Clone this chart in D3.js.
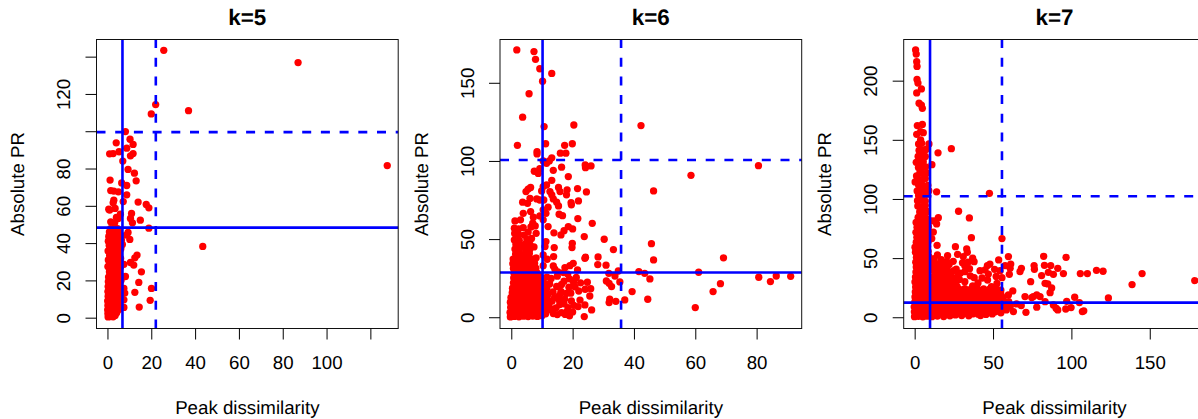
<!DOCTYPE html>
<html>
<head>
<meta charset="utf-8">
<script src="https://cdn.jsdelivr.net/npm/d3@7/dist/d3.min.js"></script>
<style>
  html, body { margin: 0; padding: 0; background: #fff; overflow: hidden; }
  text { font-family: "Liberation Sans", Arial, sans-serif; fill: #000; text-rendering: geometricPrecision; }
</style>
</head>
<body>
<div id="chart"></div>
<script>
// --- data: [peak dissimilarity, absolute PR] ---
const k5Sparse = [[25.7,143.4],[87,136.8],[22,114.3],[20,109.3],[37,111],[127.7,81.6],[43.5,38.2],[8.2,99.8],[10.3,95.7],[4,93.8],[11.7,92.9],[8.8,90.9],[11.7,88],[10.5,86.8],[1,87.9],[2.6,88],[5.3,89],[7,84],[9.4,79.5],[12.3,77.5],[13.1,73.4],[1.2,73.8],[6.5,72.3],[8.8,70.9],[1.5,68.2],[2.9,67.9],[5,67.5],[8.8,65.9],[2.9,63],[2.6,61.6],[7.2,62.3],[14,62],[17.7,60.7],[18.9,58.9],[.6,58.2],[1,57.7],[3.5,58.6],[11,55.9],[5.9,55.5],[4.1,53.8],[10.5,53.2],[4.9,53.2],[15,52.3],[11.4,50.9],[1.5,51.4],[3.3,50.9],[18.9,48],[9.4,45.7],[8.7,44.3],[10.2,42],[6.8,39.3],[13.5,33.6],[12.5,32.1],[10.5,29.6],[12,28.2],[7.5,28.6],[15.5,24.6],[8.2,22.1],[14.3,18.9],[20.1,15.7],[7.5,15.7],[12.5,13.6],[7.9,13.2],[19.5,9.3],[7.5,9.6],[14.5,5.7],[7.5,5.5]];
const k5Dense = [[.3,.4],[1.4,.6],[2.6,.5],[.2,2.2],[1.2,2],[2.8,2.3],[4.2,2.6],[.1,4.2],[1.5,4],[3,4.4],[4.6,3.9],[5.6,4.6],[.2,6.6],[1.6,6.3],[3.2,6.8],[4.7,6.5],[.1,9],[1.3,9.4],[2.7,8.8],[4.2,9.1],[5.8,8.7],[.3,11.5],[1.8,11.8],[3.3,11.2],[4.9,11.6],[.2,14],[1.5,14.3],[3,13.9],[4.5,14.2],[6,13.8],[.3,16.7],[1.7,16.4],[3.4,16.9],[5,16.5],[.4,19.3],[1.9,19.1],[3.2,19.6],[4.8,19.2],[.5,21.8],[1.6,22.2],[3,21.7],[4.3,22.1],[.9,24.6],[2.3,24.9],[3.7,24.5],[5,24.8],[.2,27.4],[1.8,27.6],[3.2,27.2],[4.7,27.7],[6,27.3],[.4,31],[1.6,30.4],[3,30.7],[4.5,30.3],[1,33.4],[2.5,33.8],[3.9,33.2],[5.2,33.6],[.3,35.8],[1.7,36.2],[3.1,35.9],[4.6,36.3],[.8,38.7],[2.2,38.4],[3.6,38.8],[5,38.3],[.4,41],[1.6,41.3],[3,40.9],[4.4,41.2],[5.8,40.8],[.6,43.6],[2,43.9],[3.5,43.5],[5,43.8],[.9,46],[2.3,46.3],[3.8,45.9],[5.4,46.2],[1.4,47.8],[3,48],[4.6,47.7]];
const k5Extra = [[.8,1.1],[2,1.4],[3.5,1.2],[.9,3.2],[2.2,3.3],[3.7,3.6],[.8,5.3],[2.4,5.5],[3.9,5.4],[5.2,5.8],[.9,7.8],[2.2,7.6],[3.8,7.9],[5.3,7.4],[.8,10.4],[2.3,10.3],[3.9,10.3],[5.4,10.2],[1,12.9],[2.5,12.8],[4,12.6],[5.5,12.4],[.9,15.4],[2.4,15.3],[3.9,15.5],[5.5,15.3],[1,18],[2.6,18],[4.2,18],[5.6,18.2],[1.2,20.6],[2.6,20.5],[4,20.8],[5.4,20.9],[1.2,23.4],[2.5,23.6],[3.8,23.3],[5.6,23.4],[1.1,26.2],[2.6,26.2],[4,26],[.9,29],[2.4,29.2],[3.9,29],[5.4,29.2],[2.3,32.1],[3.7,32],[1.1,35],[2.8,35.2],[4,34.8],[5.5,35.4],[1.4,37.4],[2.9,37.3],[4.3,37.6],[1.2,40],[2.4,40],[3.7,39.9],[5.4,40],[1,42.4],[2.5,42.3],[4.1,42.5],[5.4,42.6],[1.4,45],[2.9,44.9],[4.3,45],[5.6,44.9],[6.3,44],[6.4,41.6],[6.1,37],[6,31.8],[6.2,20],[6.3,11]];

const k6Sparse = [[1.8,171],[7.4,170],[7.9,165],[9.3,159],[13.2,156],[10.2,151],[5.8,143],[3.7,128],[10.7,122],[20.4,123],[42.3,122.6],[2,110],[11.2,111],[17.4,110],[19.9,111],[8.4,106],[8.4,104.5],[16,105],[17.8,105],[13.2,102],[12.4,100],[11.5,98.5],[10.4,100],[24.1,97.4],[24.2,95.7],[26,96.8],[16.4,96],[13.7,94],[9.3,95],[7.5,93.4],[8.8,92],[18.6,90],[80.6,97],[58.6,90.8],[46.4,80.8],[13.2,87.6],[11.5,84.6],[10.4,83.6],[6.3,83],[5.5,82],[4.8,80.4],[9.9,80.8],[15.4,83],[15.9,80.4],[18.2,81.5],[18,78.3],[21.6,82.3],[24.5,80.2],[12.6,80.4],[13.2,78.3],[13.7,75.7],[14.8,73.6],[15.4,71.2],[19.5,73.3],[19.6,71.9],[21.9,74.4],[6.1,76],[3.7,73.6],[5.3,72.9],[8.3,75.7],[9.3,75],[10.6,75],[12,70.4],[11.3,66.5],[10.4,68.7],[3.9,66.5],[6.3,67.6],[15.6,65.9],[16.7,65],[21.7,63.1],[26.4,60.1],[1.2,61.6],[3,62.3],[7.2,64],[9.3,64.8],[10.4,62.3],[18.6,58],[20,56.5],[17.2,55.4],[16.2,52.7],[13.9,54],[12,58],[23.8,51.6],[30.3,49.9],[45.7,47.1],[33.3,43.3],[19.9,47.3],[19.8,44.6],[14,44.6],[11.3,48.4],[11,45.2],[13.8,38.8],[10.4,39.9],[11.7,37.1],[24.2,38.4],[28.3,38.6],[46.4,36.7],[69.2,38],[24,37.7],[28.2,33.7],[30.9,33.3],[20.2,34.5],[19.1,33],[17.5,31.8],[13.7,32.8],[10.4,33],[21.6,30.3],[34.9,29.6],[41.6,29.2],[43.5,28.1],[61.1,28.8],[31.8,28.1],[33.8,26.4],[45.2,24.5],[80.7,25.6],[86.4,26.4],[91.1,26.2],[84.5,22.8],[68.2,21.5],[65.8,16.4],[60,6.2],[44.5,11.5],[39.4,16.4],[37,11.1],[35.4,22.6],[31,23.2],[31.9,21.7],[32.7,19.6],[32.1,11.5],[31.9,9.4],[34.1,10.2],[26.2,4.7],[23.8,.4],[25.6,13.6],[25.9,18.3],[24.1,17.9],[24.8,22.4],[22,16.8],[22.4,11],[24,7.9],[21.8,6.8],[14.2,30.8],[15,26.3],[18.4,27.6],[21.2,25.5],[13,24.8],[17.2,23.1],[20.3,22.4],[12.5,21.3],[14.8,19.7],[18.8,19.2],[13.6,16.2],[16.2,16.6],[19.4,15.4],[11.7,13.2],[14.1,12.6],[17.4,11.6],[19.6,10.4],[12.3,8.8],[15.8,8.1],[18.5,6.2],[20,3.4],[11.8,4.6],[13.7,2.4],[17.6,1.8],[19,.9]];
const k6Dense = [[-.3,.2],[1,.5],[2.5,.3],[4,.7],[5.5,.4],[7,.8],[8.5,.5],[10,1],[-.4,3.1],[1.2,3.5],[2.8,3],[4.3,3.4],[5.8,3.1],[7.3,3.6],[8.8,3.2],[10.3,3.6],[-.2,6.4],[.9,6.8],[2.4,6.2],[3.9,6.7],[5.4,6.3],[6.9,6.8],[8.4,6.4],[9.9,6.9],[11.1,6.1],[-.3,9.6],[1.3,9.2],[2.9,9.8],[4.4,9.3],[5.9,9.7],[7.4,9.2],[8.9,9.8],[10.6,9.5],[-.1,12.6],[1,13],[2.5,12.5],[4,12.9],[5.5,12.4],[7,13],[8.5,12.5],[10,12.8],[.3,15.7],[1.6,15.9],[3.1,15.4],[4.6,16],[6.1,15.5],[7.6,16],[9.1,15.5],[.4,18.6],[1.1,19],[2.6,18.5],[4.1,19],[5.6,18.4],[7.1,19],[8.6,18.6],[.7,22],[2,21.6],[3.5,22.1],[5,21.6],[6.5,22.2],[8,21.6],[9.5,22],[.8,25.1],[2.3,24.7],[3.8,25.2],[5.3,24.7],[6.8,25.2],[8.3,24.8],[10,25],[.9,28],[2.4,28.4],[3.9,27.9],[5.4,28.4],[6.9,27.9],[8.4,28.3],[.7,31.2],[2.1,31.5],[3.6,31],[5.1,31.5],[6.6,31],[8,31.4],[.5,34.3],[1.7,34.6],[3.2,34.1],[4.7,34.7],[6.2,34.2],[7.6,34.6],[.6,37.2],[2,37.5],[3.6,37],[5.2,37.4],[7,37.1],[8.1,38],[1.4,40.4],[2.8,40.8],[4.4,40.2],[5.9,40.8],[1.2,43.6],[2.5,43.2],[4.5,44],[6,43.4],[1.5,46.6],[3.2,46.1],[4.6,47],[6.1,46.4],[7.4,45],[1,49.5],[2.6,49.2],[5.1,49.8],[6.6,50.4],[1.1,53.6],[2.4,53],[4.2,52.6],[5.5,54.5],[8.1,53.7],[1,57],[2.4,56.6],[3.9,57.4],[6.4,57.8],[7.8,58.4],[7,60.2]];
const k6Extra = [[.4,1.8],[1.8,2],[3.2,1.6],[4.8,2],[6.2,1.7],[7.8,2.1],[9.2,1.8],[.3,4.9],[2,4.8],[3.5,5],[5,4.7],[6.5,5.1],[8,4.8],[9.6,5.2],[.4,8.1],[2,8],[3.6,8.1],[5.1,8],[6.6,8.2],[8.1,7.9],[9.7,8.2],[.5,11.2],[2.1,11],[3.6,11.3],[5.1,11],[6.6,11.3],[8.1,11],[9.6,11.4],[.6,14.2],[2.2,14.3],[3.6,14.1],[5.2,14.3],[6.7,14],[8.2,14.3],[9.8,14.1],[1.3,17.3],[3.4,17.1],[4.9,17.4],[6.4,17.1],[7.9,17.4],[9.4,17.2],[1.4,20.3],[3.2,20.4],[4.7,20.2],[6.2,20.5],[7.7,20.2],[9.1,20.4],[1.5,23.4],[3,23.5],[4.5,23.3],[6,23.5],[7.5,23.4],[9,23.6],[1.6,26.5],[3.1,26.4],[4.6,26.6],[6.1,26.5],[7.6,26.4],[9.2,26.8],[1.6,29.7],[3.1,29.8],[4.5,29.6],[6,29.8],[7.5,29.7],[2.8,33],[4.4,32.9],[5.9,33],[7.2,32.8],[11.2,2.2],[12.6,5.8],[14.6,6],[16.4,3],[13.3,10.4],[15.6,11],[11.4,10.8],[10.6,16.8],[11.6,18.6],[10.8,21.6],[12,15],[15.7,14],[17.9,15.2],[16.4,21],[19,24.6],[11.6,25.7],[15.2,29],[17,28.6],[22.6,22],[20.8,19.4],[17.2,8.6],[20.4,7.6],[18.2,3.8],[15,1.7]];

const k7Sparse = [[.6,226],[1,222.5],[1.3,216],[1.5,212],[1.5,201],[2.1,198],[4.3,193],[1.3,189.6],[2.8,181],[4.3,179.4],[4.9,176.6],[1.7,162],[4.9,163],[1.3,154.6],[3.8,157],[5.5,156],[9.1,146.5],[23.4,142.5],[14.9,139],[11,129],[14,106],[47.7,104.8],[28,89.6],[34.9,84],[15.1,84.2],[13,81.4],[14,78.9],[11.9,72],[10.9,66.5],[36.2,67.3],[55.7,66.5],[14.3,60.8],[26,59.7],[59.8,51.3],[82.3,51.5],[96.6,50.7],[33.2,57.7],[33.6,54.9],[27.4,53.2],[21,52.1],[14.5,52.7],[31,51.3],[37,49.9],[37.9,47],[53.6,48.5],[48,45],[46.4,43.7],[44.9,40],[41.7,39.4],[61.3,45],[57.7,43.7],[54.5,39.4],[60.9,41.4],[60.4,36.3],[68.1,41.4],[67.2,38.6],[76.2,43.7],[76.4,40.6],[82.8,43.9],[86.8,43.7],[91.3,41.4],[85.3,38],[88.5,36.3],[94.9,36.9],[81,35.2],[105.7,36.9],[110.2,36.9],[116,39.7],[120.2,38.9],[145.1,36.9],[138.7,27.6],[178.7,31],[74,30.1],[83.2,28.7],[84.9,28.2],[87.4,24.8],[86.4,20.8],[123.6,16.3],[102.1,16.9],[97,13.5],[105.1,12.4],[96.4,7],[99.8,8.2],[107,4.8],[107.9,5.4],[90.2,7.6],[91.3,6.2],[88.5,10.4],[83.2,13.2],[77.9,18.9],[77.9,8.5],[71,4.2],[63,4.8],[70.4,17.5],[74.7,16.6],[75.7,17.5],[80,17.5],[62.6,22.3],[59.8,18.9],[55.7,33.5],[68,9.9],[65,11.3],[40.4,29],[46.5,31.5],[49,25.8],[52.5,28.6],[35.5,35],[26.5,40.7],[29,37.2],[22,44.5],[18,45.4],[24.6,47.3],[16.5,41.5],[12.5,46.5],[32,43.5],[35,41],[20,37.5],[25,33],[32,30],[37,26.5]];
const k7Dense = [[-.1,.5],[2.4,.8],[5.2,.4],[8,.9],[11,.5],[14.5,1],[18.5,.6],[22.5,1.2],[26,2],[30,1.4],[34.5,1.2],[42,1.5],[-.2,4.6],[2.1,5],[4.8,4.4],[7.6,5.1],[11.6,4.7],[15.5,5.2],[19.5,4.5],[23.5,5.4],[27.5,5],[31.5,5.6],[35.5,4.9],[39.5,5.5],[43.5,4.8],[47.5,5.6],[51.5,4.6],[55,3.8],[58.5,6.2],[-.3,8.8],[2.6,9.3],[5.6,8.6],[9,9.4],[13,9],[17,9.5],[21,8.7],[25,9.6],[29,9],[33,9.5],[37,8.8],[41,9.6],[45,9],[49,9.5],[53,8.9],[57,9.7],[61,9.3],[.1,13],[2.3,13.4],[5,12.8],[8.4,13.5],[12,13.1],[16,13.6],[20,12.9],[24,13.7],[28,13.1],[32,13.6],[36,13],[40,13.7],[44,13.1],[48,13.6],[52,12.9],[56,13.6],[60,13.1],[.2,17.2],[2.7,17.6],[5.6,17],[9,17.7],[13,17.2],[17,17.8],[21,17.1],[25,17.9],[29,17.3],[33,17.8],[37,17.2],[41,17.8],[45,17.1],[49,17.8],[53,17.4],[56.5,16.6],[.4,21.4],[3,21.8],[6,21.2],[9.5,21.9],[13.5,21.4],[17.5,22],[22,21.5],[26,22.1],[30,21.4],[34,22],[38,21.5],[42,22],[46,21.4],[50,21.9],[55,23],[.6,25.5],[3.2,26],[6.2,25.4],[9.8,26.1],[14,25.5],[18,26.2],[22.5,25.8],[27,26.4],[.2,29.8],[2.8,30.2],[5.8,29.6],[8.8,30.3],[12.5,30],[16,30.4],[20,29.8],[24,30.3],[28.5,32],[.5,34],[3,34.4],[6,33.8],[8.8,34.5],[12,34.2],[16,35],[21,34.8],[.8,38.2],[3.4,38.6],[6.2,38],[9,38.8],[13,38.3],[18,39.4],[23,38.4],[1,42.4],[3.6,42.8],[6.4,42.2],[9.2,43],[14,43.2],[19,42],[.7,46.6],[3.2,47],[6,46.4],[8.8,47.2],[11,49],[1.1,50.8],[3.6,51.2],[6.4,50.6],[9,51.4],[.5,55],[3.1,55.4],[5.9,54.8],[8.6,55.6],[.2,59.2],[2.7,59.6],[5.5,59],[8.2,59.8],[1,63.4],[3.6,63.8],[6.2,63.2],[8.6,64],[1.4,67.6],[3.9,68],[6.5,67.4],[8.9,68.2],[.8,71.8],[3.2,72.2],[5.8,71.6],[8.2,72.4],[1.5,76],[4,76.4],[6.6,75.8],[8.8,76.6],[.9,80.2],[3.4,80.6],[6,80],[8.4,80.8],[11,81.5],[2.2,84.4],[4.7,84.8],[7,84.2],[3.2,89],[5.8,88.6],[8,89.4],[2,94],[4.6,93.5],[6.8,94.4],[1.8,98.5],[4.3,99],[6.8,98.2],[2.5,103],[5.2,103.5],[7.6,104],[1.6,106.8],[4,107.5],[6.6,108],[9,107],[2.4,112],[5,111.6],[8.4,111.5],[.3,114.4],[2,117],[4.6,116.3],[6.8,117.2],[1.2,119.5],[3.3,122],[5.8,121.5],[8,122],[2.4,126.5],[4.8,126.8],[7,127.2],[1,131],[3.2,131.5],[5.5,131.5],[2.2,136],[4.5,136.2],[6.8,136],[2.8,141],[5,141.5],[7.2,141.8],[2.5,146.5],[4.5,147],[3.8,150]];
const k7Extra = [[1,2.7],[3.6,2.9],[6.5,2.6],[9.6,3],[13.4,2.8],[17,3.1],[21,2.7],[25,3.2],[29,3],[33,3.3],[37,2.8],[40.5,2.6],[45.5,2.4],[49.5,2.8],[1.2,6.9],[3.9,7],[6.8,6.8],[11,7],[15,7.2],[19,6.9],[23,7.3],[27,7],[31,7.4],[35,7],[39,7.3],[43,7],[47,7.4],[51,6.9],[55,7.2],[1,11],[3.8,11.2],[7,11],[10.8,11.2],[14.8,11.3],[18.8,11],[22.8,11.3],[26.8,11.2],[30.8,11.4],[34.8,11],[38.8,11.4],[42.8,11.2],[46.8,11.5],[50.8,11],[54.8,11.3],[58.8,11.3],[1.2,15.2],[3.9,15.4],[7,15],[10.6,15.4],[14.6,15.3],[18.6,15.5],[22.6,15.2],[26.6,15.6],[30.6,15.2],[34.6,15.5],[38.6,15.3],[42.6,15.6],[46.6,15.2],[50.6,15.5],[54.6,15.1],[1.4,19.4],[4.3,19.6],[7.5,19.2],[11,19.6],[15,19.4],[19,19.6],[23.5,19.4],[27.5,19.7],[31.5,19.4],[35.5,19.7],[39.5,19.4],[43.5,19.7],[47.5,19.4],[51.5,19.6],[55,19.5],[1.7,23.6],[4.6,23.8],[7.8,23.4],[11.6,23.8],[15.6,23.6],[19.8,23.8],[24,23.7],[28.4,23.8],[32,24.2],[36,24],[40,24.2],[44,24],[48,24],[52,24.4],[11.5,27.8],[15,28],[18.5,27.9],[22,28.2],[26,28.4],[10.6,32],[14,32.3],[18,32.5],[22,32.3],[27.5,35],[14,36.5],[18.5,36.8],[23,36.5],[12,40.8],[16,39],[20.5,40.2],[25,39.5],[11,44.5],[15,45],[20.5,47],[12.5,49.5],[17,48.6],[30.5,46],[34,46.5],[32,38.5],[38,33.5],[43,33.2],[47,36.5],[52,34.5],[51,40.5]];

const k5Thresholds = { solidX: 6.85, solidY: 48.3, dashX: 22.07, dashY: 99.5 };
const k6Thresholds = { solidX: 10.2, solidY: 28.6, dashX: 35.8, dashY: 100.6 };
const k7Thresholds = { solidX: 9.8, solidY: 12.4, dashX: 55.7, dashY: 102.3 };

const k5XTicks = [0, 20, 40, 60, 80, 100, 120];
const k5XLabels = [0, 20, 40, 60, 80, 100];
const k5YTicks = [0, 20, 40, 60, 80, 100, 120, 140];
const k5YLabels = [0, 20, 40, 60, 80, 120];
const k6XTicks = [0, 20, 40, 60, 80];
const k6YTicks = [0, 50, 100, 150];
const k7XTicks = [0, 50, 100, 150];
const k7YTicks = [0, 50, 100, 150, 200];

const panels = [
  { title: "k=5", pts: k5Dense.concat(k5Extra, k5Sparse), lines: k5Thresholds, left: 96.5,
    xLim: [-5, 132.7], yLim: [-5.8, 149.2],
    xTicks: k5XTicks, xLabels: k5XLabels, yTicks: k5YTicks, yLabels: k5YLabels },
  { title: "k=6", pts: k6Dense.concat(k6Extra, k6Sparse), lines: k6Thresholds, left: 500,
    xLim: [-3.68, 94.7], yLim: [-7.2, 177.7],
    xTicks: k6XTicks, xLabels: k6XTicks, yTicks: k6YTicks, yLabels: k6YTicks },
  { title: "k=7", pts: k7Dense.concat(k7Extra, k7Sparse), lines: k7Thresholds, left: 903.7,
    xLim: [-7, 185.5], yLim: [-9.5, 234.8],
    xTicks: k7XTicks, xLabels: k7XTicks, yTicks: k7YTicks, yLabels: k7YTicks }
];

const width = 1198, height = 419;
const boxW = 301.7, boxTop = 39.5, boxBottom = 328.5;
const tickLen = 11, fontSize = 18.7;

const svg = d3.select("#chart").append("svg")
  .attr("width", width)
  .attr("height", height)
  .style("display", "block");

function drawPanel(p) {
  const x = d3.scaleLinear().domain(p.xLim).range([p.left, p.left + boxW]);
  const y = d3.scaleLinear().domain(p.yLim).range([boxBottom, boxTop]);
  const g = svg.append("g");

  g.append("g").selectAll("circle")
    .data(p.pts)
    .join("circle")
    .attr("cx", d => x(d[0]))
    .attr("cy", d => y(d[1]))
    .attr("r", 3.65)
    .attr("fill", "#ff0000");

  // threshold lines sit on top of the points, cut at the box
  const lineStyle = (sel, dashed) => sel
    .attr("stroke", "#0000ff")
    .attr("stroke-width", 2.6)
    .attr("stroke-dasharray", dashed ? "9 9.7" : null);
  const right = Math.min(p.left + boxW, width);
  g.append("line").attr("x1", x(p.lines.solidX)).attr("x2", x(p.lines.solidX))
    .attr("y1", boxTop).attr("y2", boxBottom).call(lineStyle, false);
  g.append("line").attr("x1", p.left).attr("x2", right)
    .attr("y1", y(p.lines.solidY)).attr("y2", y(p.lines.solidY)).call(lineStyle, false);
  g.append("line").attr("x1", x(p.lines.dashX)).attr("x2", x(p.lines.dashX))
    .attr("y1", boxBottom).attr("y2", boxTop).call(lineStyle, true);
  g.append("line").attr("x1", p.left).attr("x2", right)
    .attr("y1", y(p.lines.dashY)).attr("y2", y(p.lines.dashY)).call(lineStyle, true);

  g.append("rect")
    .attr("x", p.left).attr("y", boxTop)
    .attr("width", boxW).attr("height", boxBottom - boxTop)
    .attr("fill", "none").attr("stroke", "#111").attr("stroke-width", 1);

  const xAxis = d3.axisBottom(x)
    .tickValues(p.xTicks)
    .tickSize(tickLen)
    .tickPadding(16)
    .tickFormat(d => p.xLabels.includes(d) ? d : "");
  g.append("g").attr("transform", `translate(0,${boxBottom})`).call(xAxis)
    .call(a => a.select(".domain").remove())
    .call(a => a.selectAll("text").attr("font-size", fontSize).attr("font-family", null));

  const yAxis = d3.axisLeft(y)
    .tickValues(p.yTicks)
    .tickSize(tickLen)
    .tickFormat(d => p.yLabels.includes(d) ? d : "");
  g.append("g").attr("transform", `translate(${p.left},0)`).call(yAxis)
    .call(a => a.select(".domain").remove())
    .call(a => a.selectAll("text")
      .attr("font-size", fontSize)
      .attr("font-family", null)
      .attr("text-anchor", "middle")
      .attr("x", null).attr("dy", null)
      .attr("transform", `translate(-26.5,0) rotate(-90)`));

  const mid = p.left + boxW / 2;
  g.append("text").attr("x", mid).attr("y", 25)
    .attr("text-anchor", "middle").attr("font-size", 22.4).attr("font-weight", "bold")
    .text(p.title);
  g.append("text").attr("x", mid).attr("y", 414)
    .attr("text-anchor", "middle").attr("font-size", fontSize)
    .text("Peak dissimilarity");
  g.append("text")
    .attr("transform", `translate(${p.left - 72.5},${(boxTop + boxBottom) / 2}) rotate(-90)`)
    .attr("text-anchor", "middle").attr("font-size", fontSize)
    .text("Absolute PR");
}

panels.forEach(drawPanel);
</script>
</body>
</html>
